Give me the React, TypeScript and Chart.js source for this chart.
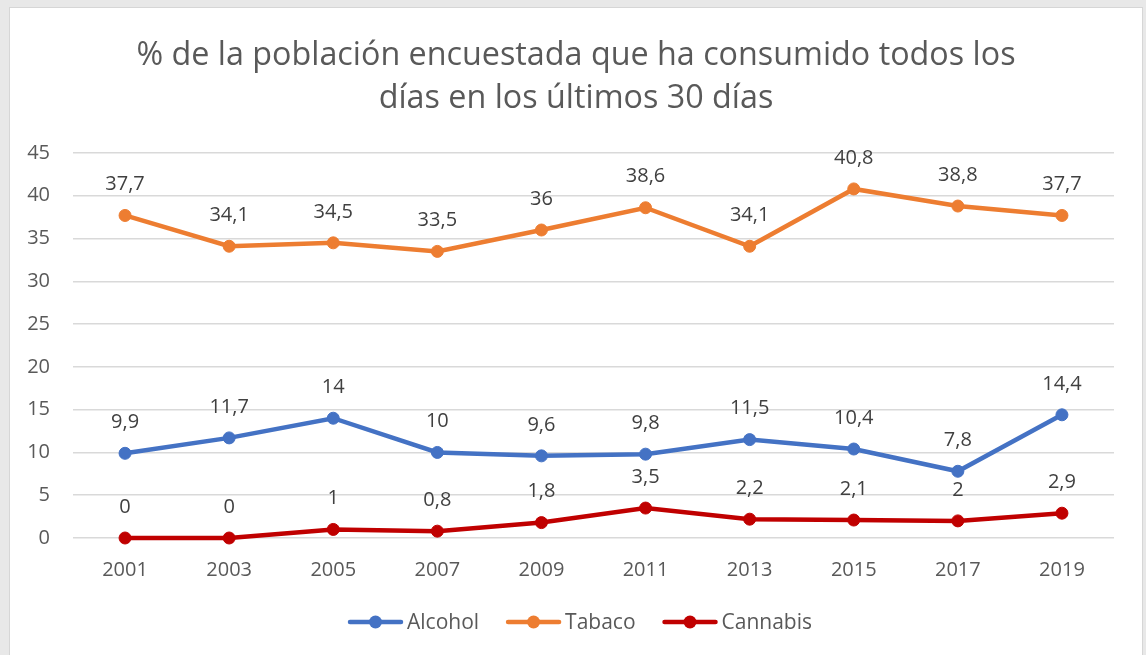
import React, { useEffect, useRef } from "react";
import { Chart, registerables } from "chart.js";
Chart.register(...registerables);

const years = ["2001", "2003", "2005", "2007", "2009", "2011", "2013", "2015", "2017", "2019"];
const alcohol = [9.9, 11.7, 14, 10, 9.6, 9.8, 11.5, 10.4, 7.8, 14.4];
const tabaco = [37.7, 34.1, 34.5, 33.5, 36, 38.6, 34.1, 40.8, 38.8, 37.7];
const cannabis = [0, 0, 1, 0.8, 1.8, 3.5, 2.2, 2.1, 2, 2.9];
const seriesNames = ["Alcohol", "Tabaco", "Cannabis"];
const seriesColors = ["#4472C4", "#ED7D31", "#C00000"];
const titleLines = ["% de la población encuestada que ha consumido todos los", "días en los últimos 30 días"];

const FONT = "'Open Sans', 'DejaVu Sans', sans-serif";

const fmt = (v: number) => String(v).replace(".", ",");

const decorPlugin = {
  id: "decor",
  afterDatasetsDraw(chart: any) {
    const ctx = chart.ctx;
    ctx.save();
    // data labels
    ctx.font = `20px ${FONT}`;
    ctx.fillStyle = "#404040";
    ctx.textAlign = "center";
    ctx.textBaseline = "middle";
    chart.data.datasets.forEach((ds: any, i: number) => {
      const meta = chart.getDatasetMeta(i);
      meta.data.forEach((pt: any, j: number) => {
        ctx.fillText(fmt(ds.data[j]), pt.x, pt.y - 31);
      });
    });
    // title
    ctx.font = `32.3px ${FONT}`;
    ctx.fillStyle = "#595959";
    const cx = chart.width / 2;
    ctx.fillText(titleLines[0], cx, 48);
    ctx.fillText(titleLines[1], cx, 91);
    // legend
    ctx.font = `21px ${FONT}`;
    const lineLen = 55;
    const gapText = 4;
    const gapItem = 27;
    const widths = seriesNames.map((n) => ctx.measureText(n).width);
    const total = widths.reduce((a, w) => a + lineLen + gapText + w, 0) + gapItem * (seriesNames.length - 1);
    let x = chart.width / 2 - total / 2 + 4;
    const y = 614;
    seriesNames.forEach((n, i) => {
      ctx.strokeStyle = seriesColors[i];
      ctx.lineWidth = 4.5;
      ctx.lineCap = "round";
      ctx.beginPath();
      ctx.moveTo(x + 2, y);
      ctx.lineTo(x + lineLen - 2, y);
      ctx.stroke();
      ctx.fillStyle = seriesColors[i];
      ctx.beginPath();
      ctx.arc(x + lineLen / 2, y, 6.5, 0, Math.PI * 2);
      ctx.fill();
      ctx.fillStyle = "#595959";
      ctx.textAlign = "left";
      ctx.fillText(n, x + lineLen + gapText, y + 1);
      x += lineLen + gapText + widths[i] + gapItem;
    });
    ctx.restore();
  },
};

export default function App() {
  const ref = useRef<HTMLCanvasElement>(null);
  useEffect(() => {
    document.body.style.margin = "0";
    const mk = (label: string, data: number[], color: string) => ({
      label,
      data,
      borderColor: color,
      backgroundColor: color,
      pointBackgroundColor: color,
      pointBorderColor: color,
      borderWidth: 4.5,
      pointRadius: 6,
      pointBorderWidth: 1,
      tension: 0,
      clip: false as any,
    });
    const chart = new Chart(ref.current!, {
      type: "line",
      data: {
        labels: years,
        datasets: [
          mk(seriesNames[0], alcohol, seriesColors[0]),
          mk(seriesNames[1], tabaco, seriesColors[1]),
          mk(seriesNames[2], cannabis, seriesColors[2]),
        ],
      },
      options: {
        responsive: false,
        animation: false,
        layout: { padding: { top: 145, left: 0, right: 28, bottom: 77 } },
        plugins: {
          legend: { display: false },
          title: { display: false },
          tooltip: { enabled: false },
        },
        scales: {
          x: {
            offset: true,
            grid: { display: false, drawTicks: false },
            border: { display: false },
            ticks: { color: "#595959", font: { family: FONT, size: 20 }, padding: 20 },
            afterFit: (s: any) => {
              s.height = 40;
            },
          },
          y: {
            min: 0,
            max: 45,
            ticks: { stepSize: 5, color: "#595959", font: { family: FONT, size: 20 }, padding: 23 },
            grid: { color: "#d9d9d9", lineWidth: 1.5, drawTicks: false },
            border: { display: false },
            afterFit: (s: any) => {
              s.width = 63;
            },
          },
        },
      },
      plugins: [decorPlugin],
    });
    return () => chart.destroy();
  }, []);
  return (
    <div style={{ position: "relative", width: 1146, height: 655, background: "#e8e8e8", overflow: "hidden" }}>
      <div
        style={{
          position: "absolute",
          left: 10,
          top: 8,
          width: 1132,
          height: 660,
          background: "#fff",
          boxShadow: "0 0 0 1px #d6d6d6",
        }}
      >
        <canvas ref={ref} width={1132} height={647} style={{ display: "block" }} />
      </div>
    </div>
  );
}
